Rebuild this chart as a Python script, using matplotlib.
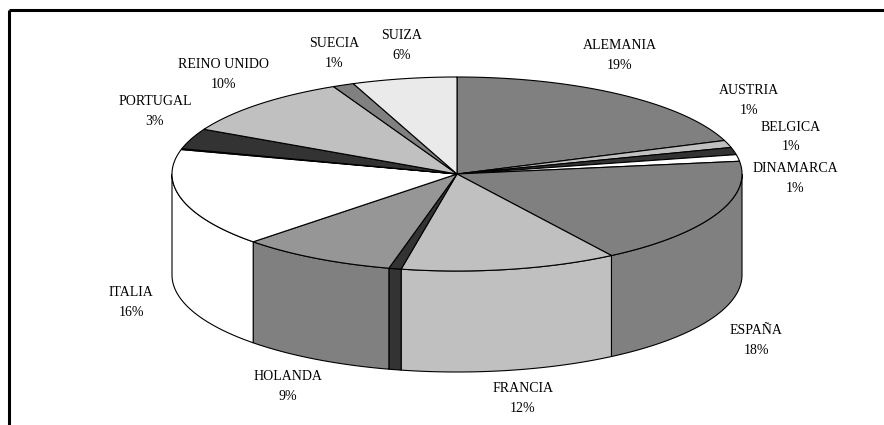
import numpy as np
import matplotlib
matplotlib.use("Agg")
import matplotlib.pyplot as plt
from matplotlib.patches import Polygon
from matplotlib.lines import Line2D

# Share of each country (clockwise from 12 o'clock)
countries = ["ALEMANIA", "AUSTRIA", "BELGICA", "DINAMARCA", "ESPAÑA", "FRANCIA",
             "GRECIA", "HOLANDA", "ITALIA", "LUXEMBURGO", "PORTUGAL",
             "REINO UNIDO", "SUECIA", "SUIZA"]
shares = [19.3, 1.2, 1.2, 1.1, 17.9, 12.2, 0.7, 8.8, 16.3, 0.15, 3.4, 10.2, 1.2, 5.9]

top_colors = ["#808080", "#C0C0C0", "#333333", "#FFFFFF", "#808080", "#C0C0C0",
              "#333333", "#969696", "#FFFFFF", "#800000", "#333333",
              "#C0C0C0", "#808080", "#EAEAEA"]
side_colors = ["#808080", "#C0C0C0", "#333333", "#FFFFFF", "#808080", "#C0C0C0",
               "#333333", "#808080", "#FFFFFF", "#800000", "#333333",
               "#C0C0C0", "#808080", "#EAEAEA"]

# slices without a data label
unlabeled = {"GRECIA", "LUXEMBURGO"}

# label anchors (pixel layout, y downwards)
label_pos = {
    "ALEMANIA": (620, 45), "AUSTRIA": (749, 90), "BELGICA": (791, 127),
    "DINAMARCA": (795, 168), "ESPAÑA": (756, 330), "FRANCIA": (523, 389),
    "HOLANDA": (288, 377), "ITALIA": (131, 293), "PORTUGAL": (155, 101),
    "REINO UNIDO": (223, 64), "SUECIA": (334, 43), "SUIZA": (402, 35),
}

W, H = 884, 425
fig = plt.figure(figsize=(W / 100, H / 100), dpi=100)
ax = fig.add_axes([0, 0, 1, 1])
ax.set_xlim(0, W)
ax.set_ylim(H, 0)
ax.axis("off")

# chart frame (top and left edges)
ax.add_line(Line2D([9, W], [10, 10], color="black", lw=2.2, solid_capstyle="butt"))
ax.add_line(Line2D([9, 9], [10, H], color="black", lw=2.2, solid_capstyle="butt"))

cx, cy, rx, ry, depth = 457, 174, 285, 97, 101


def rim(theta_deg, drop=0.0):
    t = np.radians(theta_deg)
    return np.column_stack([cx + rx * np.sin(t), cy - ry * np.cos(t) + drop])


fractions = np.asarray(shares) / np.sum(shares)
edges = np.concatenate([[0.0], np.cumsum(fractions) * 360.0])

# visible side walls (front half of the cylinder)
for i in range(len(shares)):
    lo, hi = max(edges[i], 90.0), min(edges[i + 1], 270.0)
    if hi <= lo:
        continue
    t = np.linspace(lo, hi, 200)
    pts = np.vstack([rim(t), rim(t[::-1], depth)])
    ax.add_patch(Polygon(pts, closed=True, facecolor=side_colors[i],
                         edgecolor="black", lw=0.8, zorder=2))

# top faces
for i in range(len(shares)):
    t = np.linspace(edges[i], edges[i + 1], 200)
    pts = np.vstack([[[cx, cy]], rim(t)])
    ax.add_patch(Polygon(pts, closed=True, facecolor=top_colors[i],
                         edgecolor="black", lw=0.8, zorder=3))

# data labels: name above, percentage below
for name, frac in zip(countries, fractions):
    if name in unlabeled:
        continue
    x, y = label_pos[name]
    pct = f"{int(round(frac * 100))}%"
    ax.text(x, y, name, ha="center", va="center", fontsize=10,
            family="Liberation Serif", color="black", zorder=5)
    ax.text(x, y + 20, pct, ha="center", va="center", fontsize=10,
            family="Liberation Serif", color="black", zorder=5)

fig.savefig("out.png", dpi=100)
